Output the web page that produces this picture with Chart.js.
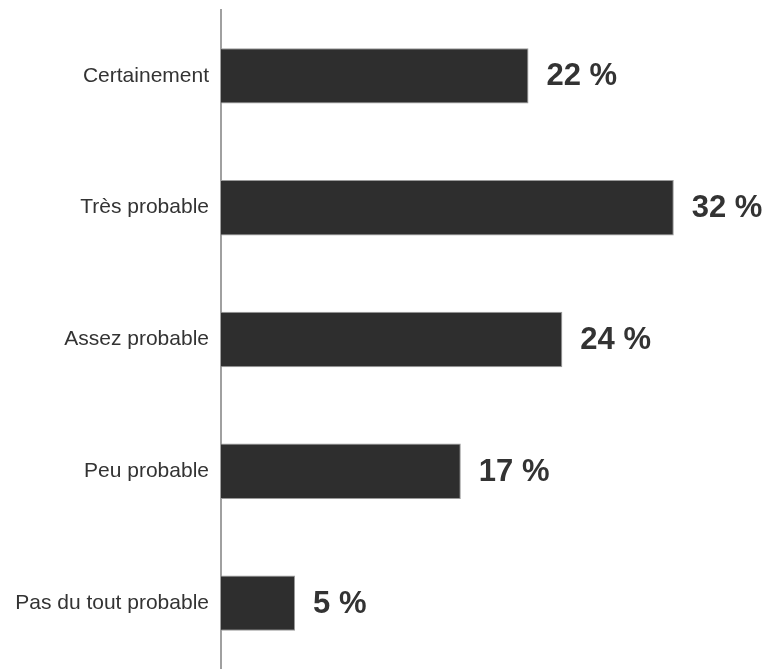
<!DOCTYPE html>
<html>
<head>
<meta charset="utf-8">
<script src="https://cdn.jsdelivr.net/npm/chart.js@4/dist/chart.umd.min.js"></script>
<style>
  html, body { margin: 0; padding: 0; background: #fff; }
  #wrap { width: 767px; height: 669px; }
</style>
</head>
<body>
<div id="wrap"><canvas id="barChart"></canvas></div>
<script>
const categories = ["Certainement", "Très probable", "Assez probable", "Peu probable", "Pas du tout probable"];
const values = [21.8, 32.1, 24.2, 17.0, 5.25];
const valueLabels = ["22 %", "32 %", "24 %", "17 %", "5 %"];

// draws the bold % next to each bar
const endLabels = {
  id: 'endLabels',
  afterDatasetsDraw(chart) {
    const ctx = chart.ctx;
    const meta = chart.getDatasetMeta(0);
    ctx.save();
    ctx.font = 'bold 31px "Liberation Sans", Arial, sans-serif';
    ctx.fillStyle = '#333333';
    ctx.textAlign = 'left';
    ctx.textBaseline = 'middle';
    meta.data.forEach((bar, i) => {
      ctx.fillText(valueLabels[i], bar.x + 18, bar.y + 1);
    });
    ctx.restore();
  }
};

new Chart(document.getElementById("barChart").getContext("2d"), {
  type: 'bar',
  data: {
    labels: categories,
    datasets: [{
      data: values,
      backgroundColor: '#2e2e2e',
      borderColor: '#9a9a9a',
      borderWidth: 1,
      borderSkipped: 'left',
      barPercentage: 0.42,
      categoryPercentage: 1
    }]
  },
  options: {
    indexAxis: 'y',
    responsive: true,
    maintainAspectRatio: false,
    animation: false,
    layout: { padding: { top: 10, right: 10, bottom: 0, left: 0 } },
    scales: {
      x: {
        display: false,
        min: 0,
        max: 38
      },
      y: {
        afterFit: (scale) => {
          scale.width = 221;
          scale.paddingTop = 0;
          scale.paddingBottom = 0;
        },
        grid: { display: false, drawTicks: false },
        border: { display: true, color: '#a0a0a0', width: 2 },
        ticks: {
          padding: 12,
          color: '#333333',
          font: { family: '"Liberation Sans", Arial, sans-serif', size: 21 }
        }
      }
    },
    plugins: {
      legend: { display: false },
      tooltip: { enabled: false }
    }
  },
  plugins: [endLabels]
});
</script>
</body>
</html>
